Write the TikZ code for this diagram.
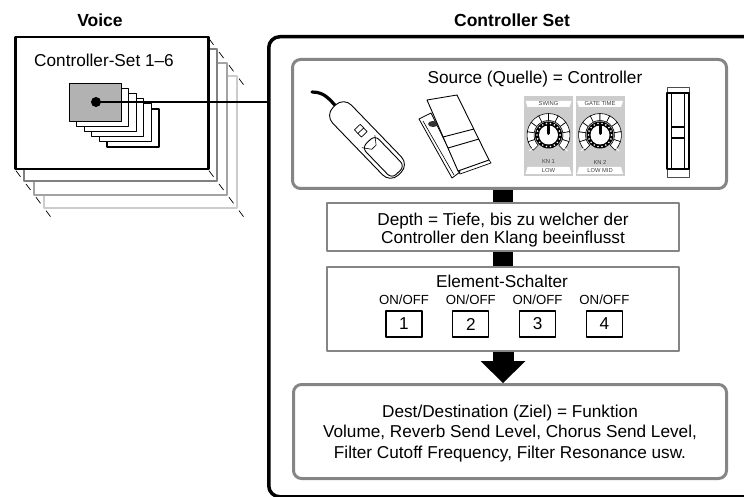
\documentclass[tikz,border=0pt]{standalone}
\usepackage{fontspec}
\setmainfont{Liberation Sans}
\usetikzlibrary{arrows.meta,positioning}
\definecolor{rim}{gray}{0.52}
\definecolor{panel}{gray}{0.8}

\begin{document}
\begin{tikzpicture}[x=1pt,y=-1pt,line join=round,
  lbl/.style={font=\fontsize{17.2}{20}\selectfont,inner sep=0pt},
  para/.style={lbl,align=center},
  head/.style={font=\fontsize{17.5}{20}\selectfont\bfseries,inner sep=0pt},
  sheet/.style={draw,fill=white,inner sep=0pt,anchor=north west},
  rimbox/.style={draw=rim,line width=3pt,rounded corners=8pt,inner sep=0pt,anchor=north west},
  stage/.style={draw=rim,line width=2pt,inner sep=0pt,anchor=north west},
  onoff/.style={font=\fontsize{13.2}{14}\selectfont,inner sep=0pt,anchor=base},
  switch/.style={draw,line width=1.2pt,minimum width=36pt,minimum height=26pt,inner sep=0pt,font=\fontsize{17.2}{20}\selectfont},
  tiny/.style={font=\fontsize{5.8}{6}\selectfont,inner sep=0pt,text=black!75}]

\path[use as bounding box] (0,0) rectangle (744,497);

% titles
\node[head,anchor=base] (voicehd) at (100,26.7) {Voice};
\node[head,anchor=base] (sethd) at (512,26.7) {Controller Set};

% voice stack, back layers first
\foreach \k/\c in {3/black!20,2/black!36,1/black!50}
  \draw[\c,line width=2pt,fill=white] (14+10*\k,36+13.3*\k) rectangle ++(193,132);
\node[sheet,line width=2.5pt,minimum width=193pt,minimum height=132pt] (voice) at (14,36) {};
\foreach \k in {1,...,4}
  \foreach \x/\y in {207/36,207/168,14/168}
    \draw[line width=0.7pt] (\x+10*\k-8,\y+13.3*\k-10.6) -- ++(4.5,6);
\node[lbl,anchor=base] (voicelbl) at (104,66.5) {Controller-Set 1\textendash 6};

% controller sets 1-6
\foreach \k in {5,...,1}
  \draw[line width=1.2pt,fill=white] (69+7.6*\k,83+5.2*\k) rectangle ++(52,38);
\node[sheet,fill=black!30,line width=1.2pt,minimum width=52pt,minimum height=38pt] (cur) at (69,83) {};
\node[circle,fill,inner sep=0pt,minimum size=10pt] (dot) at (96,102) {};

% controller set frame
\node[sheet,line width=3.5pt,rounded corners=11pt,minimum width=500pt,minimum height=460pt] (cset) at (267,35) {};
\draw[line width=2pt] (dot.center) -- (dot -| cset.west);

% source
\node[rimbox,minimum width=434pt,minimum height=129pt] (src) at (291,58) {};
\node[lbl,anchor=base] (srclbl) at (535,83.5) {Source (Quelle) = Controller};

% sustain pedal
\draw[line width=3.2pt,line cap=round] (312,92) .. controls (326,92) and (330,101) .. (338,108);
\begin{scope}[shift={(367,140)},rotate=-46]
  \draw[fill=white,line width=0.9pt,rounded corners=11pt] (-47,-13) rectangle (47,13);
  \draw[fill=white,line width=0.9pt,rounded corners=6pt] (2,-9) rectangle (45,9);
  \draw[line width=0.6pt] (2,-9) -- (10,-3) -- (10,3) -- (2,9);
  \draw[line width=0.7pt] (-16,-6) rectangle (-6,2) (-11,-6) -- (-11,2);
\end{scope}

% foot controller
\draw[fill=white,line width=0.8pt] (419,119) -- (431,113) -- (460,172) -- (452,178) -- cycle;
\draw[line width=0.6pt] (423,121) -- (454,175);
\fill[black!80] (433,124) ellipse [x radius=5,y radius=3];
\draw[fill=white,line width=0.9pt] (427,100) -- (457,95) -- (489,160) -- (458,171) -- cycle;
\draw[line width=0.7pt] (458,171) -- (460,174) -- (491,163) -- (489,160);
\draw[line width=0.9pt] (443,137) -- (474,129) (448,148) -- (479,139);

% knobs
\foreach \i/\kx/\up/\dn in {1/548.5/SWING/LOW,2/600/GATE TIME/LOW MID} {
  \fill[panel] (\kx-24.5,96) rectangle (\kx+24.5,176);
  \fill[white] (\kx-23,101) -- (\kx+23,101) -- (\kx+21,107) -- (\kx-21,107) -- cycle;
  \fill[white] (\kx-21,167) -- (\kx+21,167) -- (\kx+23,174) -- (\kx-23,174) -- cycle;
  \node[tiny] (up\i) at (\kx,104) {\up};
  \node[tiny] (kn\i) at (\kx,162) {KN \i};
  \node[tiny] (dn\i) at (\kx,170.5) {\dn};
  \begin{scope}[shift={(\kx,135)}]
    \foreach \a in {0,...,9} {
      \pgfmathsetmacro\s{135+27*\a}
      \pgfmathsetmacro\e{\s+27}
      \draw[fill=white,line width=0.6pt] (\s:14.5) -- (\s:21.5) arc[start angle=\s,end angle=\e,radius=21.5] -- (\e:14.5) arc[start angle=\e,end angle=\s,radius=14.5] -- cycle;
    }
    \draw[white,line width=0.8pt] (140:20) -- (140:25) (40:20) -- (40:25);
    \fill (0,0) circle (13.5);
    \fill[white] (0,0) circle (9.5);
    \foreach \b in {0,20,...,340} \fill[white] (\b:11.6) circle (0.9);
    \draw[line width=3pt,line cap=round] (0,-1.5) -- (0,-10.5);
  \end{scope}
}

% ribbon
\draw[line width=0.6pt,black!70] (667,87) rectangle (689,177);
\draw[line width=1.8pt] (667,93) rectangle (689,169);
\draw[line width=1.1pt] (671.5,93) -- (671.5,169) (684.5,93) -- (684.5,169);
\draw[line width=1.8pt] (671.5,127) -- (684.5,127) (671.5,138) -- (684.5,138);

% depth and element switches
\node[stage,minimum width=352pt,minimum height=48pt] (depth) at (326,202) {};
\node[para,font=\fontsize{17.2}{17.7}\selectfont,yshift=-3.2pt] (depthlbl) at (depth) {Depth = Tiefe, bis zu welcher der\\Controller den Klang beeinflusst};
\node[stage,minimum width=352pt,minimum height=84pt] (elem) at (326,266) {};
\node[lbl,anchor=base] (elemlbl) at (502,287) {Element-Schalter};
\foreach \i in {1,...,4} {
  \node[onoff] (on\i) at (404+66.8*\i-66.8,304.8) {ON/OFF};
  \node[switch] (sw\i) at (404+66.8*\i-66.8,324) {\i};
}
\draw[line width=20pt] (depth.north |- src.south) -- (depth.north);
\draw[line width=20pt] (elem.north |- depth.south) -- (elem.north);

% destination
\node[rimbox,minimum width=433pt,minimum height=94pt] (dest) at (292,383) {};
\node[para,font=\fontsize{17.2}{20.8}\selectfont,yshift=-2pt] (destlbl) at (dest) {Dest/Destination (Ziel) = Funktion\\Volume, Reverb Send Level, Chorus Send Level,\\Filter Cutoff Frequency, Filter Resonance usw.};
\draw[line width=21pt,-{Triangle[length=22pt,width=45pt,line width=0pt]}] (elem.south) -- (elem.south |- dest.north);
\end{tikzpicture}
\end{document}
